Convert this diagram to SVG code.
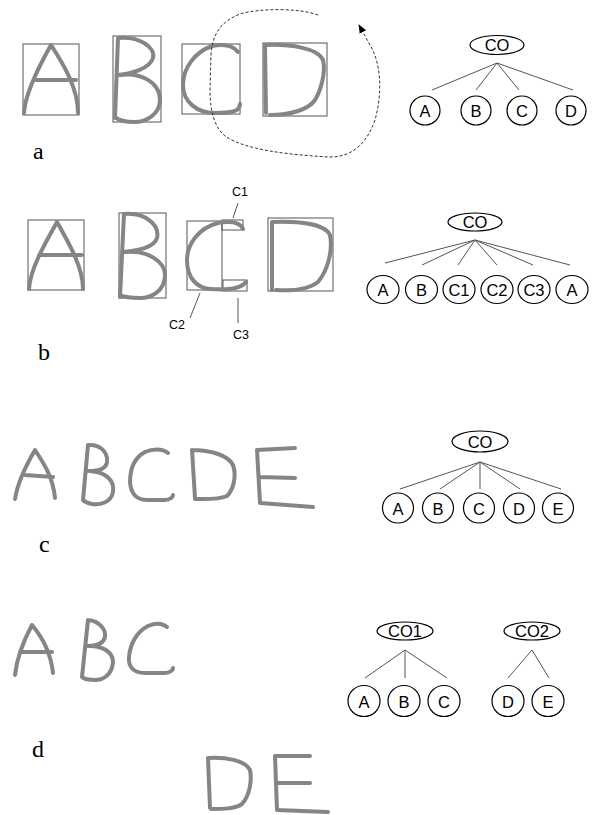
<svg xmlns="http://www.w3.org/2000/svg" width="593" height="815" viewBox="0 0 593 815">
<defs>
<marker id="arr" viewBox="0 0 10 10" refX="9" refY="5" markerWidth="9" markerHeight="9" markerUnits="userSpaceOnUse" orient="auto">
<path d="M0,1 L10,5 L0,9 Z" fill="#000"/>
</marker>
</defs>
<style>
.ltr{fill:none;stroke:#858585;stroke-width:4;stroke-linecap:round;stroke-linejoin:round}
.box{fill:none;stroke:#555;stroke-width:1}
.lbl{font-family:"Liberation Serif",serif;font-size:24px;fill:#000}
.nd{fill:#fff;stroke:#000;stroke-width:1.2}
.nt{font-family:"Liberation Sans",Arial,sans-serif;font-size:16.5px;fill:#000;text-anchor:middle;dominant-baseline:central}
.edge{stroke:#555;stroke-width:1;fill:none}
.sm{font-family:"Liberation Sans",Arial,sans-serif;font-size:12.5px;fill:#000;text-anchor:middle;dominant-baseline:central}
</style>
<rect width="593" height="815" fill="#fff"/>

<!-- Panel a -->
<g id="panel-a">
<rect class="box" x="23" y="44" width="56" height="71"/>
<path class="ltr" d="M24,113 C25,95 38,68 51,45 C66,68 78,90 78,113 M35,80 L76,80"/>
<rect class="box" x="113" y="36" width="48" height="86"/>
<path class="ltr" d="M118,38 L115,118 M118,38 C140,36 156,48 153,58 C150,68 132,74 118,75 M120,75 C140,72 160,82 160,100 C160,115 145,122 135,122 C125,122 118,120 115,117"/>
<rect class="box" x="182" y="44" width="58" height="70"/>
<path class="ltr" d="M238,52 C232,44 222,44 212,46 C195,52 183,68 183,85 C183,102 197,113 215,113 C230,113 240,112 240,104"/>
<rect class="box" x="263" y="43" width="64" height="73"/>
<path class="ltr" d="M265,45 L266,113 M265,45 C290,44 318,48 323,60 C326,72 321,90 315,100 C308,110 290,115 270,115"/>
<path d="M318,15 C300,8 260,8 240,14 C220,22 212,35 211,55 L210,90 C210,112 215,128 225,136 C245,150 290,155 330,157 C355,157 368,140 375,120 C382,95 382,65 370,45 L359,25" fill="none" stroke="#333" stroke-width="1" stroke-dasharray="3,2" marker-end="url(#arr)"/>
<text class="lbl" x="33" y="159">a</text>
</g>

<g id="connectors">
<!-- tree a -->
<path class="edge" d="M497,63 L432,90 M497,63 L476,90 M497,63 L519,90 M497,63 L573,90"/>
<!-- tree b -->
<path class="edge" d="M475,240 L385,263 M475,240 L422,265 M475,240 L458,265 M475,240 L497,265 M475,240 L533,265 M475,240 L570,265"/>
<!-- tree c -->
<path class="edge" d="M480,462 L400,489 M480,462 L440,489 M480,462 L480,489 M480,462 L520,489 M480,462 L561,489"/>
<!-- tree d -->
<path class="edge" d="M405,650 L365,678 M405,650 L405,678 M405,650 L447,678 M532,650 L508,678 M532,650 L549,678"/>
<!-- panel b callouts -->
<path class="edge" d="M238,203 L233,218 M200,293 L190,318 M238,298 L238,323"/>
</g>

<!-- Tree a -->
<g id="a-CO"><ellipse class="nd" cx="497" cy="45" rx="27" ry="9.5"/><text class="nt" x="497" y="45">CO</text></g>
<g id="a-A"><ellipse class="nd" cx="425" cy="110.5" rx="15" ry="14.5"/><text class="nt" x="425" y="111">A</text></g>
<g id="a-B"><ellipse class="nd" cx="476" cy="110.5" rx="15" ry="14.5"/><text class="nt" x="476" y="111">B</text></g>
<g id="a-C"><ellipse class="nd" cx="522" cy="110.5" rx="15" ry="14.5"/><text class="nt" x="522" y="111">C</text></g>
<g id="a-D"><ellipse class="nd" cx="571" cy="110.5" rx="15" ry="14.5"/><text class="nt" x="571" y="111">D</text></g>

<!-- Panel b -->
<g id="panel-b">
<rect class="box" x="28" y="220" width="56" height="70"/>
<path class="ltr" d="M29,289 C30,270 44,245 57,222 C70,245 83,268 83,289 M40,255 L82,255"/>
<rect class="box" x="119" y="213" width="47" height="85"/>
<path class="ltr" d="M124,214 L120,297 M124,214 C145,212 160,225 157,238 C154,248 138,250 124,252 M126,252 C148,250 165,262 165,275 C165,292 150,298 140,298 C130,298 122,296 120,295"/>
<rect class="box" x="187" y="221" width="35" height="69"/>
<rect class="box" x="222" y="220" width="21" height="10"/>
<rect class="box" x="223" y="280" width="24" height="11"/>
<path class="ltr" d="M243,229 C240,222 230,221 218,223 C198,228 187,245 187,260 C187,278 197,288 210,289 C225,290 240,290 246,282"/>
<rect class="box" x="268" y="218" width="65" height="73"/>
<path class="ltr" d="M272,222 L272,290 M272,222 C300,221 325,224 330,235 C333,250 328,270 318,282 C308,290 290,291 276,290"/>
<text class="sm" x="240" y="192">C1</text>
<text class="sm" x="177" y="325">C2</text>
<text class="sm" x="241" y="335">C3</text>
<text class="lbl" x="38" y="360">b</text>
</g>

<!-- Tree b -->
<g id="b-CO"><ellipse class="nd" cx="475" cy="222" rx="27" ry="9"/><text class="nt" x="475" y="222">CO</text></g>
<g id="b-A"><ellipse class="nd" cx="383" cy="289.5" rx="16" ry="14"/><text class="nt" x="383" y="290">A</text></g>
<g id="b-B"><ellipse class="nd" cx="421.5" cy="289.5" rx="16" ry="14"/><text class="nt" x="421.5" y="290">B</text></g>
<g id="b-C1"><ellipse class="nd" cx="459" cy="289.5" rx="16" ry="14"/><text class="nt" x="459" y="290">C1</text></g>
<g id="b-C2"><ellipse class="nd" cx="497" cy="289.5" rx="16" ry="14"/><text class="nt" x="497" y="290">C2</text></g>
<g id="b-C3"><ellipse class="nd" cx="534" cy="289.5" rx="16" ry="14"/><text class="nt" x="534" y="290">C3</text></g>
<g id="b-A2"><ellipse class="nd" cx="572" cy="289.5" rx="16" ry="14"/><text class="nt" x="572" y="290">A</text></g>

<!-- Panel c -->
<g id="panel-c">
<path class="ltr" d="M15,499 C18,480 28,462 35,450 C45,465 53,478 55,498 M25,475 L53,477"/>
<path class="ltr" d="M88,445 L83,500 M88,445 C100,444 108,452 107,462 C106,470 96,471 89,471 M90,471 C105,472 115,480 113,492 C111,503 100,505 92,504 C87,503 84,501 83,500"/>
<path class="ltr" d="M168,453 C162,448 152,449 145,452 C134,458 130,470 130,482 C131,495 137,500 148,500 L165,500 C170,500 173,497 173,495"/>
<path class="ltr" d="M192,450 L195,498 M192,450 C210,450 228,455 233,465 C237,477 233,490 227,496 C217,500 205,499 195,499"/>
<path class="ltr" d="M257,450 L260,503 M257,450 L295,448 M260,477 L295,478 M260,503 L313,507"/>
<text class="lbl" x="39" y="552">c</text>
</g>

<!-- Tree c -->
<g id="c-CO"><ellipse class="nd" cx="480" cy="441.5" rx="28" ry="10.5"/><text class="nt" x="480" y="442">CO</text></g>
<g id="c-A"><ellipse class="nd" cx="398" cy="508" rx="15.5" ry="15"/><text class="nt" x="398" y="508.5">A</text></g>
<g id="c-B"><ellipse class="nd" cx="438" cy="508" rx="15.5" ry="15"/><text class="nt" x="438" y="508.5">B</text></g>
<g id="c-C"><ellipse class="nd" cx="479" cy="508" rx="15.5" ry="15"/><text class="nt" x="479" y="508.5">C</text></g>
<g id="c-D"><ellipse class="nd" cx="519" cy="508" rx="15.5" ry="15"/><text class="nt" x="519" y="508.5">D</text></g>
<g id="c-E"><ellipse class="nd" cx="558" cy="508" rx="15.5" ry="15"/><text class="nt" x="558" y="508.5">E</text></g>

<!-- Panel d -->
<g id="panel-d">
<path class="ltr" d="M15,675 C17,657 25,638 32,625 C43,638 51,655 53,673 M20,652 L52,652"/>
<path class="ltr" d="M88,620 L82,677 M88,620 C100,621 106,630 105,637 C103,645 95,646 88,646 M89,646 C103,646 113,652 113,662 C112,676 102,680 95,680 C88,680 84,679 82,677"/>
<path class="ltr" d="M167,627 C162,623 155,623 148,626 C136,632 130,645 129,657 C128,668 135,673 145,673 L165,673 C170,673 173,670 173,668"/>
<path class="ltr" d="M208,758 L210,808 M208,758 C225,757 245,760 250,770 C252,780 250,795 242,804 C235,809 222,809 211,809"/>
<path class="ltr" d="M275,756 L277,810 M275,756 L310,756 M277,783 L310,783 M277,810 L328,812"/>
<text class="lbl" x="32" y="757">d</text>
</g>

<!-- Tree d -->
<g id="d-CO1"><ellipse class="nd" cx="405" cy="631" rx="28" ry="9"/><text class="nt" x="405" y="631">CO1</text></g>
<g id="d-CO2"><ellipse class="nd" cx="532" cy="631" rx="28" ry="9"/><text class="nt" x="532" y="631">CO2</text></g>
<g id="d-A"><ellipse class="nd" cx="364" cy="701" rx="16" ry="15.5"/><text class="nt" x="364" y="701.5">A</text></g>
<g id="d-B"><ellipse class="nd" cx="404" cy="701" rx="16" ry="15.5"/><text class="nt" x="404" y="701.5">B</text></g>
<g id="d-C"><ellipse class="nd" cx="444" cy="701" rx="16" ry="15.5"/><text class="nt" x="444" y="701.5">C</text></g>
<g id="d-D"><ellipse class="nd" cx="508" cy="701" rx="16" ry="15.5"/><text class="nt" x="508" y="701.5">D</text></g>
<g id="d-E"><ellipse class="nd" cx="548" cy="701" rx="16" ry="15.5"/><text class="nt" x="548" y="701.5">E</text></g>
</svg>
